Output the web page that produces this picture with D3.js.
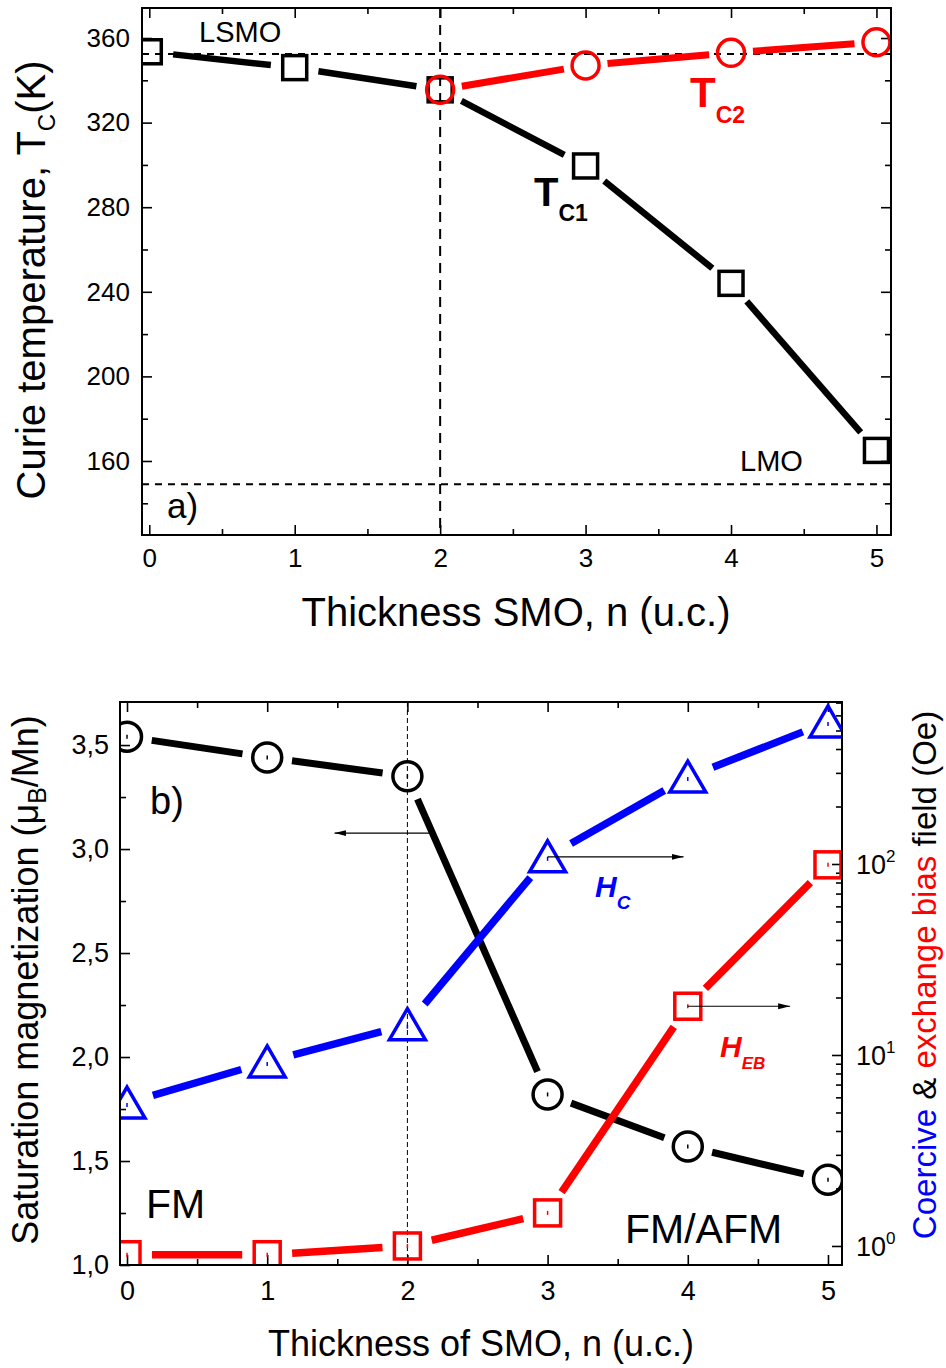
<!DOCTYPE html>
<html>
<head>
<meta charset="utf-8">
<script src="https://cdn.jsdelivr.net/npm/d3@7"></script>
<style>
  body { margin: 0; background: #fff; }
  text { font-family: "Liberation Sans", Arial, sans-serif; }
</style>
</head>
<body>
<svg id="fig" width="946" height="1368"></svg>
<script>
"use strict";

// ---- data

var thickness = [0, 1, 2, 3, 4, 5];

// panel a) Curie temperatures
var tc1 = [353.5, 346, 335.5, 299.5, 244, 165];
var tc2Thickness = [2, 3, 4, 5];
var tc2 = [335.5, 347, 353, 358];
var lsmoLevel = 352.5;
var lmoLevel = 149;

// panel b) magnetization (left) and fields in Oe (right, log)
var ms = [3.54, 3.44, 3.35, 1.82, 1.57, 1.41];
var hc = [5.6, 9.2, 14.4, 109, 285, 554];
var heb = [0.9, 0.9, 1.0, 1.49, 18, 99];

var xTicks = [0, 1, 2, 3, 4, 5];
var tcTicks = [160, 200, 240, 280, 320, 360];
var msTicks = [1.0, 1.5, 2.0, 2.5, 3.0, 3.5];
var fieldTicks = [1, 10, 100];


var svg = d3.select("#fig");

var defs = svg.append("defs");

defs.append("marker")
    .attr("id", "arrow")
    .attr("viewBox", "0 0 12 8")
    .attr("refX", 12).attr("refY", 4)
    .attr("markerWidth", 12).attr("markerHeight", 8)
    .attr("markerUnits", "userSpaceOnUse")
    .attr("orient", "auto")
  .append("path")
    .attr("d", "M0,1 L12,4 L0,7 Z")
    .attr("fill", "black");


// shorten segments between markers (origin style gaps)
function gapSegments(pts, gap) {
    var segs = [];
    for (var i = 0; i < pts.length - 1; i++) {
        var a = pts[i], b = pts[i + 1];
        var dx = b[0] - a[0], dy = b[1] - a[1];
        var L = Math.sqrt(dx * dx + dy * dy);
        if (L <= 2 * gap) continue;
        var ux = dx / L, uy = dy / L;
        segs.push([a[0] + ux * gap, a[1] + uy * gap, b[0] - ux * gap, b[1] - uy * gap]);
    }
    return segs;
}

function drawSegments(g, pts, gap, color, width) {
    g.selectAll(null)
        .data(gapSegments(pts, gap))
        .enter().append("line")
        .attr("x1", d => d[0]).attr("y1", d => d[1])
        .attr("x2", d => d[2]).attr("y2", d => d[3])
        .attr("stroke", color)
        .attr("stroke-width", width);
}

function styleAxis(g, size) {
    g.select(".domain").remove();
    g.selectAll("line").attr("stroke", "black").attr("stroke-width", 1.6);
    g.selectAll("text")
        .attr("font-size", size)
        .attr("fill", "black")
        .attr("font-family", "Liberation Sans, Arial, sans-serif");
}

function centerDot(g, x, y, color) {
    g.append("line")
        .attr("x1", x).attr("x2", x)
        .attr("y1", y - 2).attr("y2", y + 2)
        .attr("stroke", color).attr("stroke-width", 1.5);
}


// =====================  panel a)

var x1 = d3.scaleLinear().domain([-0.05, 5.1]).range([142, 891]);
var y1 = d3.scaleLinear().domain([125, 374.2]).range([535, 8]);

defs.append("clipPath").attr("id", "clipA")
  .append("rect")
    .attr("x", 142).attr("y", 8)
    .attr("width", 891 - 142).attr("height", 535 - 8);

var pa = svg.append("g");

// ticks
var xa = pa.append("g").attr("transform", "translate(0,535)")
    .call(d3.axisBottom(x1).tickValues(xTicks).tickSize(-10).tickPadding(14).tickFormat(d3.format("d")));
styleAxis(xa, 26);
styleAxis(pa.append("g").attr("transform", "translate(0,535)")
    .call(d3.axisBottom(x1).tickValues([0.5, 1.5, 2.5, 3.5, 4.5]).tickSize(-6).tickFormat("")), 0);
styleAxis(pa.append("g").attr("transform", "translate(0,8)")
    .call(d3.axisTop(x1).tickValues(xTicks).tickSize(-10).tickFormat("")), 0);
styleAxis(pa.append("g").attr("transform", "translate(0,8)")
    .call(d3.axisTop(x1).tickValues([0.5, 1.5, 2.5, 3.5, 4.5]).tickSize(-6).tickFormat("")), 0);

var ya = pa.append("g").attr("transform", "translate(142,0)")
    .call(d3.axisLeft(y1).tickValues(tcTicks).tickSize(-10).tickPadding(12).tickFormat(d3.format("d")));
styleAxis(ya, 26);
styleAxis(pa.append("g").attr("transform", "translate(142,0)")
    .call(d3.axisLeft(y1).tickValues([140, 180, 220, 260, 300, 340]).tickSize(-6).tickFormat("")), 0);
styleAxis(pa.append("g").attr("transform", "translate(891,0)")
    .call(d3.axisRight(y1).tickValues(tcTicks).tickSize(-10).tickFormat("")), 0);
styleAxis(pa.append("g").attr("transform", "translate(891,0)")
    .call(d3.axisRight(y1).tickValues([140, 180, 220, 260, 300, 340]).tickSize(-6).tickFormat("")), 0);

// reference lines
pa.append("line")
    .attr("x1", 142).attr("x2", 891)
    .attr("y1", y1(lsmoLevel)).attr("y2", y1(lsmoLevel))
    .attr("stroke", "black").attr("stroke-width", 2).attr("stroke-dasharray", "7,6");
pa.append("line")
    .attr("x1", 142).attr("x2", 891)
    .attr("y1", y1(lmoLevel)).attr("y2", y1(lmoLevel))
    .attr("stroke", "black").attr("stroke-width", 2).attr("stroke-dasharray", "7,6");
pa.append("line")
    .attr("x1", x1(2)).attr("x2", x1(2))
    .attr("y1", 8).attr("y2", 535)
    .attr("stroke", "black").attr("stroke-width", 2).attr("stroke-dasharray", "10,7");

var plotA = pa.append("g").attr("clip-path", "url(#clipA)");

var tc1Pts = thickness.map((n, i) => [x1(n), y1(tc1[i])]);
var tc2Pts = tc2Thickness.map((n, i) => [x1(n), y1(tc2[i])]);

drawSegments(plotA, tc1Pts, 24, "black", 6.5);
drawSegments(plotA, tc2Pts, 22, "#ff0000", 7);

plotA.selectAll(null).data(tc1Pts).enter().append("rect")
    .attr("x", d => d[0] - 12).attr("y", d => d[1] - 12)
    .attr("width", 24).attr("height", 24)
    .attr("fill", "none").attr("stroke", "black").attr("stroke-width", 3.5);

plotA.selectAll(null).data(tc2Pts).enter().append("circle")
    .attr("cx", d => d[0]).attr("cy", d => d[1]).attr("r", 13.5)
    .attr("fill", "none").attr("stroke", "#ff0000").attr("stroke-width", 3.5);

// frame
pa.append("rect")
    .attr("x", 142).attr("y", 8)
    .attr("width", 891 - 142).attr("height", 535 - 8)
    .attr("fill", "none").attr("stroke", "black").attr("stroke-width", 2);

// labels
pa.append("text").attr("x", 199).attr("y", 42).attr("font-size", 29).text("LSMO");
pa.append("text").attr("x", 740).attr("y", 471).attr("font-size", 29).text("LMO");
pa.append("text").attr("x", 167).attr("y", 518).attr("font-size", 35).text("a)");

var t1 = pa.append("text").attr("x", 534).attr("y", 206).attr("font-weight", "bold");
t1.append("tspan").attr("font-size", 40).text("T");
t1.append("tspan").attr("font-size", 23).attr("dy", 15).text("C1");

var t2 = pa.append("text").attr("x", 690).attr("y", 107).attr("font-weight", "bold").attr("fill", "#ff0000");
t2.append("tspan").attr("font-size", 42).text("T");
t2.append("tspan").attr("font-size", 23).attr("dy", 16).text("C2");

var yla = pa.append("text")
    .attr("transform", "translate(45,280) rotate(-90)")
    .attr("text-anchor", "middle").attr("font-size", 40);
yla.append("tspan").text("Curie temperature, T");
yla.append("tspan").attr("font-size", 24).attr("dy", 10).text("C");
yla.append("tspan").attr("dy", -10).text("(K)");

pa.append("text").attr("x", 516).attr("y", 626)
    .attr("text-anchor", "middle").attr("font-size", 40)
    .text("Thickness SMO, n (u.c.)");


// =====================  panel b)

var x2 = d3.scaleLinear().domain([-0.05, 5.1]).range([120, 842]);
var y2 = d3.scaleLinear().domain([1.0, 3.707]).range([1265, 702]);
var y2r = d3.scaleLog().domain([0.795, 705]).range([1265, 702]);

defs.append("clipPath").attr("id", "clipB")
  .append("rect")
    .attr("x", 120).attr("y", 702)
    .attr("width", 842 - 120).attr("height", 1265 - 702);

var pb = svg.append("g");

var xb = pb.append("g").attr("transform", "translate(0,1265)")
    .call(d3.axisBottom(x2).tickValues(xTicks).tickSize(-10).tickPadding(16).tickFormat(d3.format("d")));
styleAxis(xb, 27);
styleAxis(pb.append("g").attr("transform", "translate(0,1265)")
    .call(d3.axisBottom(x2).tickValues([0.5, 1.5, 2.5, 3.5, 4.5]).tickSize(-6).tickFormat("")), 0);
styleAxis(pb.append("g").attr("transform", "translate(0,702)")
    .call(d3.axisTop(x2).tickValues(xTicks).tickSize(-10).tickFormat("")), 0);
styleAxis(pb.append("g").attr("transform", "translate(0,702)")
    .call(d3.axisTop(x2).tickValues([0.5, 1.5, 2.5, 3.5, 4.5]).tickSize(-6).tickFormat("")), 0);

var yb = pb.append("g").attr("transform", "translate(120,0)")
    .call(d3.axisLeft(y2).tickValues(msTicks).tickSize(-10).tickPadding(11)
        .tickFormat(d => d3.format(".1f")(d).replace(".", ",")));
styleAxis(yb, 27);
styleAxis(pb.append("g").attr("transform", "translate(120,0)")
    .call(d3.axisLeft(y2).tickValues([1.25, 1.75, 2.25, 2.75, 3.25]).tickSize(-6).tickFormat("")), 0);

// right log axis
var minorField = [];
[1, 10, 100].forEach(function (dec) {
    for (var k = 2; k <= 9; k++) if (dec * k < 705) minorField.push(dec * k);
});
styleAxis(pb.append("g").attr("transform", "translate(842,0)")
    .call(d3.axisRight(y2r).tickValues(fieldTicks).tickSize(-10).tickFormat("")), 0);
styleAxis(pb.append("g").attr("transform", "translate(842,0)")
    .call(d3.axisRight(y2r).tickValues(minorField).tickSize(-6).tickFormat("")), 0);

pb.selectAll(null).data(fieldTicks).enter().append("text")
    .attr("x", 856).attr("y", d => y2r(d) + 10)
    .attr("font-size", 27)
    .each(function (d) {
        var t = d3.select(this);
        t.append("tspan").text("10");
        t.append("tspan").attr("font-size", 17).attr("dy", -12).text(Math.round(Math.log10(d)));
    });

// vertical dashed line at n = 2
pb.append("line")
    .attr("x1", x2(2)).attr("x2", x2(2))
    .attr("y1", 702).attr("y2", 1265)
    .attr("stroke", "black").attr("stroke-width", 1).attr("stroke-dasharray", "5,3");

var plotB = pb.append("g").attr("clip-path", "url(#clipB)");

var msPts = thickness.map((n, i) => [x2(n), y2(ms[i])]);
var hcPts = thickness.map((n, i) => [x2(n), y2r(hc[i])]);
var hebPts = thickness.map((n, i) => [x2(n), y2r(heb[i])]);

drawSegments(plotB, msPts, 25, "black", 7);
drawSegments(plotB, hcPts, 27, "#0000ff", 7.5);
drawSegments(plotB, hebPts, 25, "#ff0000", 7.5);

plotB.selectAll(null).data(msPts).enter().append("circle")
    .attr("cx", d => d[0]).attr("cy", d => d[1]).attr("r", 14.5)
    .attr("fill", "none").attr("stroke", "black").attr("stroke-width", 3.5);
msPts.forEach(d => centerDot(plotB, d[0], d[1], "black"));

plotB.selectAll(null).data(hcPts).enter().append("path")
    .attr("d", d => "M" + d[0] + "," + (d[1] - 16) + " L" + (d[0] + 18) + "," + (d[1] + 15) +
        " L" + (d[0] - 18) + "," + (d[1] + 15) + " Z")
    .attr("fill", "none").attr("stroke", "#0000ff").attr("stroke-width", 3.5)
    .attr("stroke-linejoin", "miter");
hcPts.forEach(d => centerDot(plotB, d[0], d[1] + 2, "#0000ff"));

plotB.selectAll(null).data(hebPts).enter().append("rect")
    .attr("x", d => d[0] - 13).attr("y", d => d[1] - 13)
    .attr("width", 26).attr("height", 26)
    .attr("fill", "none").attr("stroke", "#ff0000").attr("stroke-width", 3.5);
hebPts.forEach(d => centerDot(plotB, d[0], d[1], "#ff0000"));

// arrows pointing to the axis that each curve uses
pb.append("line")
    .attr("x1", x2(2.17)).attr("y1", y2(3.077))
    .attr("x2", x2(1.48)).attr("y2", y2(3.077))
    .attr("stroke", "black").attr("stroke-width", 1.2).attr("marker-end", "url(#arrow)");
pb.append("line")
    .attr("x1", x2(3.0)).attr("y1", y2r(hc[3]))
    .attr("x2", x2(3.97)).attr("y2", y2r(hc[3]))
    .attr("stroke", "black").attr("stroke-width", 1.2).attr("marker-end", "url(#arrow)");
pb.append("line")
    .attr("x1", x2(4.0)).attr("y1", y2r(heb[4]))
    .attr("x2", x2(4.73)).attr("y2", y2r(heb[4]))
    .attr("stroke", "black").attr("stroke-width", 1.2).attr("marker-end", "url(#arrow)");

// frame
pb.append("rect")
    .attr("x", 120).attr("y", 702)
    .attr("width", 842 - 120).attr("height", 1265 - 702)
    .attr("fill", "none").attr("stroke", "black").attr("stroke-width", 2);

// labels
pb.append("text").attr("x", 150).attr("y", 814).attr("font-size", 38).text("b)");
pb.append("text").attr("x", 146).attr("y", 1218).attr("font-size", 41).text("FM");
pb.append("text").attr("x", 625).attr("y", 1243).attr("font-size", 41).text("FM/AFM");

var hcl = pb.append("text").attr("x", 595).attr("y", 897)
    .attr("font-weight", "bold").attr("font-style", "italic").attr("fill", "#0000ff");
hcl.append("tspan").attr("font-size", 30).text("H");
hcl.append("tspan").attr("font-size", 19).attr("dy", 12).text("C");

var hebl = pb.append("text").attr("x", 720).attr("y", 1057)
    .attr("font-weight", "bold").attr("font-style", "italic").attr("fill", "#ff0000");
hebl.append("tspan").attr("font-size", 30).text("H");
hebl.append("tspan").attr("font-size", 17).attr("dy", 12).text("EB");

var ylb = pb.append("text")
    .attr("transform", "translate(38,980) rotate(-90)")
    .attr("text-anchor", "middle").attr("font-size", 36);
ylb.append("tspan").text("Saturation magnetization (\u03bc");
ylb.append("tspan").attr("font-size", 25).attr("dy", 8).text("B");
ylb.append("tspan").attr("dy", -8).text("/Mn)");

var yrb = pb.append("text")
    .attr("transform", "translate(936,975) rotate(-90)")
    .attr("text-anchor", "middle").attr("font-size", 33);
yrb.append("tspan").attr("fill", "#0000ff").text("Coercive");
yrb.append("tspan").attr("fill", "black").text(" & ");
yrb.append("tspan").attr("fill", "#ff0000").text("exchange bias");
yrb.append("tspan").attr("fill", "black").text(" field (Oe)");

pb.append("text").attr("x", 481).attr("y", 1356)
    .attr("text-anchor", "middle").attr("font-size", 36)
    .text("Thickness of SMO, n (u.c.)");
</script>
</body>
</html>
